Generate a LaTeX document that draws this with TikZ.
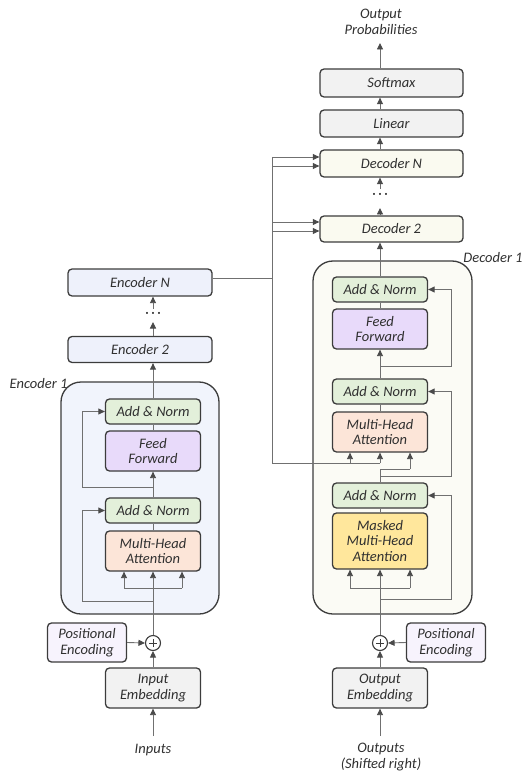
\documentclass[tikz,border=0pt]{standalone}
\usepackage{fontspec}
\setmainfont{Carlito}
\usetikzlibrary{arrows.meta}
\definecolor{bord}{HTML}{3C3C3C}
\definecolor{linec}{HTML}{707070}
\definecolor{arrc}{HTML}{4A4A4A}
\definecolor{txt}{HTML}{303030}
\definecolor{encbg}{HTML}{F1F4FC}
\definecolor{encbox}{HTML}{EEF1FB}
\definecolor{decbg}{HTML}{FBFBF5}
\definecolor{decbox}{HTML}{FAFAF0}
\definecolor{anfill}{HTML}{E3F0DA}
\definecolor{fffill}{HTML}{E8DAFA}
\definecolor{mhafill}{HTML}{FCE5D8}
\definecolor{mmhafill}{HTML}{FFE79C}
\definecolor{posfill}{HTML}{F7F3FD}
\definecolor{grayfill}{HTML}{F2F2F2}
\newcommand\boxfont{\fontsize{14.5}{15.5}\selectfont\itshape}
\begin{document}
\begin{tikzpicture}[x=1pt,y=-1pt,
  blk/.style={draw=bord, line width=1.3pt, rounded corners=4pt, inner sep=0pt,
    align=center, text=txt, font=\boxfont},
  cont/.style={draw=bord, line width=1.3pt, rounded corners=20pt, inner sep=0pt},
  lbl/.style={text=txt, font=\boxfont, align=center, inner sep=0pt},
  line/.style={draw=linec, line width=0.9pt},
  arr/.style={line, -{Triangle[length=6.5pt,width=6pt,color=arrc]}},
  plus/.style={circle, draw=bord, line width=1.1pt, fill=white, minimum size=15pt, inner sep=0pt,
    path picture={\draw[bord, line width=0.9pt] ([xshift=-4pt]path picture bounding box.center) -- ([xshift=4pt]path picture bounding box.center)
      ([yshift=-4pt]path picture bounding box.center) -- ([yshift=4pt]path picture bounding box.center);}}
]
\useasboundingbox (0,0) rectangle (531,783);

% containers
\node[cont, fill=encbg, minimum width=158, minimum height=232] (enc1) at (140,498) {};
\node[cont, fill=decbg, minimum width=159, minimum height=353] (dec1) at (392.5,437.5) {};
\node[lbl] (enc1lbl) at (38.5,384) {Encoder 1};
\node[lbl] (dec1lbl) at (493,258) {Decoder 1};

% encoder boxes
\node[blk, fill=encbox, minimum width=144, minimum height=27] (encN) at (140,282.5) {Encoder N};
\node[blk, fill=encbox, minimum width=144, minimum height=26] (enc2) at (140,349.5) {Encoder 2};
\node[blk, fill=anfill, minimum width=95, minimum height=25] (an1) at (153,411.5) {Add \& Norm};
\node[blk, fill=fffill, minimum width=95, minimum height=40] (ff1) at (153,451) {Feed\\Forward};
\node[blk, fill=anfill, minimum width=95, minimum height=25] (an2) at (153,510.5) {Add \& Norm};
\node[blk, fill=mhafill, minimum width=95, minimum height=40] (mha1) at (153,551) {Multi-Head\\Attention};
\node[blk, fill=posfill, minimum width=79, minimum height=39] (posL) at (87,642.5) {Positional\\Encoding};
\node[plus] (plusL) at (153,643) {};
\node[blk, fill=grayfill, minimum width=95, minimum height=40] (inpEmb) at (153,688) {Input\\Embedding};
\node[lbl] (inputs) at (153,750) {Inputs};
\node[lbl] (edots) at (153,315) {·\,·\,·};

% decoder boxes
\node[lbl] (outprob) at (381,22) {Output\\Probabilities};
\node[blk, fill=grayfill, minimum width=143, minimum height=28] (softmax) at (391.5,83) {Softmax};
\node[blk, fill=grayfill, minimum width=143, minimum height=27] (linear) at (391.5,123.5) {Linear};
\node[blk, fill=decbox, minimum width=143, minimum height=27] (decN) at (391.5,163.5) {Decoder N};
\node[blk, fill=decbox, minimum width=143, minimum height=26] (dec2) at (391.5,229) {Decoder 2};
\node[lbl] (ddots) at (380,196) {·\,·\,·};
\node[blk, fill=anfill, minimum width=95, minimum height=25] (an3) at (380,289.5) {Add \& Norm};
\node[blk, fill=fffill, minimum width=95, minimum height=40] (ff2) at (380,329) {Feed\\Forward};
\node[blk, fill=anfill, minimum width=95, minimum height=25] (an4) at (380,391.5) {Add \& Norm};
\node[blk, fill=mhafill, minimum width=95, minimum height=40] (mha2) at (380,432) {Multi-Head\\Attention};
\node[blk, fill=anfill, minimum width=95, minimum height=25] (an5) at (380,495.5) {Add \& Norm};
\node[blk, fill=mmhafill, minimum width=95, minimum height=56] (mmha) at (380,541) {Masked\\Multi-Head\\Attention};
\node[plus] (plusR) at (380,643) {};
\node[blk, fill=posfill, minimum width=79, minimum height=39] (posR) at (446,642.5) {Positional\\Encoding};
\node[blk, fill=grayfill, minimum width=95, minimum height=40] (outEmb) at (380,688) {Output\\Embedding};
\node[lbl] (outputs) at (381,757) {Outputs\\(Shifted right)};

% coordinates
\coordinate (inStart) at (153,736);
\coordinate (eqL) at (124,588);
\coordinate (eqC) at (153,588);
\coordinate (eqR) at (182,588);
\coordinate (eRes1) at (153,601);
\coordinate (eRes1L) at (82,601);
\coordinate (eRes2) at (153,487);
\coordinate (eRes2L) at (82,487);
\coordinate (eUpA) at (153,322);
\coordinate (eUpB) at (153,309);
\coordinate (busE) at (272,278);
\coordinate (busTop) at (272,157);
\coordinate (busBot) at (272,463);
\coordinate (kv1) at (272,166);
\coordinate (kv2) at (272,222);
\coordinate (kv3) at (272,231);
\coordinate (outStart) at (380,736);
\coordinate (dqL) at (350,588);
\coordinate (dqR) at (410,588);
\coordinate (dRes1) at (380,599);
\coordinate (dRes1R) at (451,599);
\coordinate (dTurn) at (380,469);
\coordinate (dTurnR) at (410,469);
\coordinate (dRes2) at (380,476);
\coordinate (dRes2R) at (451,476);
\coordinate (dRes3) at (380,366);
\coordinate (dRes3R) at (451,366);
\coordinate (mkvL) at (350,463);
\coordinate (mkvC) at (380,463);
\coordinate (dUpA) at (380,208);
\coordinate (dUpB) at (380,189);
\coordinate (probTip) at (380,43);

% encoder connectors
\draw[arr] (inStart) -- (inpEmb.south);
\draw[arr] (inpEmb.north) -- (plusL.south);
\draw[arr] (posL.east) -- (plusL.west);
\draw[arr] (plusL.north) -- (mha1.south);
\draw[line] (eqL) -- (eqR);
\draw[arr] (eqL) -- (eqL |- mha1.south);
\draw[arr] (eqR) -- (eqR |- mha1.south);
\draw[arr] (eRes1) -- (eRes1L) |- (an2.west);
\draw[line] (mha1.north) -- (an2.south);
\draw[arr] (an2.north) -- (ff1.south);
\draw[arr] (eRes2) -- (eRes2L) |- (an1.west);
\draw[line] (ff1.north) -- (an1.south);
\draw[arr] (an1.north) -- (an1.north |- enc2.south);
\draw[arr] (enc2.north -| eUpA) -- (eUpA);
\draw[arr] (eUpB) -- (eUpB |- encN.south);

% encoder to decoder
\draw[line] (encN.east |- busE) -- (busE);
\draw[line] (busTop) -- (busBot);
\draw[arr] (busTop) -- (busTop -| decN.west);
\draw[arr] (kv1) -- (kv1 -| decN.west);
\draw[arr] (kv2) -- (kv2 -| dec2.west);
\draw[arr] (kv3) -- (kv3 -| dec2.west);
\draw[line] (busBot) -- (mkvC);
\draw[arr] (mkvL) -- (mkvL |- mha2.south);
\draw[arr] (mkvC) -- (mha2.south);

% decoder connectors
\draw[arr] (outStart) -- (outEmb.south);
\draw[arr] (outEmb.north) -- (plusR.south);
\draw[arr] (posR.west) -- (plusR.east);
\draw[arr] (plusR.north) -- (mmha.south);
\draw[line] (dqL) -- (dqR);
\draw[arr] (dqL) -- (dqL |- mmha.south);
\draw[arr] (dqR) -- (dqR |- mmha.south);
\draw[arr] (dRes1) -- (dRes1R) |- (an5.east);
\draw[line] (mmha.north) -- (an5.south);
\draw[line] (an5.north) -- (dTurn) -- (dTurnR);
\draw[arr] (dTurnR) -- (dTurnR |- mha2.south);
\draw[arr] (dRes2) -- (dRes2R) |- (an4.east);
\draw[line] (mha2.north) -- (an4.south);
\draw[arr] (an4.north) -- (ff2.south);
\draw[arr] (dRes3) -- (dRes3R) |- (an3.east);
\draw[line] (ff2.north) -- (an3.south);
\draw[arr] (an3.north) -- (an3.north |- dec2.south);
\draw[arr] (dec2.north -| dUpA) -- (dUpA);
\draw[arr] (dUpB) -- (dUpB |- decN.south);
\draw[arr] (decN.north -| dUpA) -- (dUpA |- linear.south);
\draw[arr] (linear.north -| dUpA) -- (dUpA |- softmax.south);
\draw[arr] (softmax.north -| dUpA) -- (probTip);
\end{tikzpicture}
\end{document}
